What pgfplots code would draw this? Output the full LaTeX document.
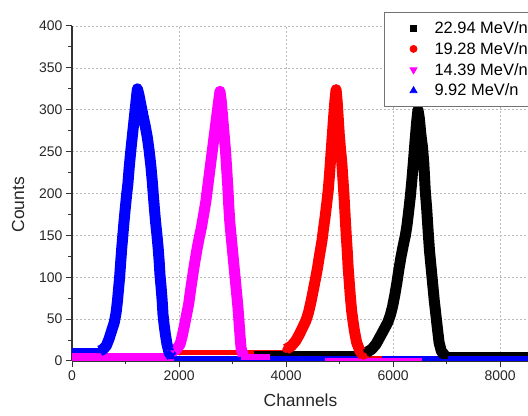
\documentclass[border=0pt]{standalone}
\usepackage{fontspec}
\setmainfont{Liberation Sans}
\usepackage{pgfplots}
\usepackage{pgfplotstable}
\pgfplotsset{compat=1.18}
\definecolor{mag}{RGB}{255,0,255}
\definecolor{blu}{RGB}{0,0,255}
\definecolor{rd}{RGB}{255,0,0}

% peak data: channel, counts
\pgfplotstableread{
x y
5500 10
5600 14
5680 20
5740 27
5800 34
5850 40
5900 46
5950 55
5990 65
6030 78
6070 93
6110 110
6150 125
6190 138
6230 150
6260 162
6290 178
6320 195
6350 215
6380 238
6410 262
6440 285
6465 300
6490 290
6520 270
6550 255
6575 235
6600 205
6630 180
6655 155
6680 132
6710 112
6740 92
6770 72
6800 55
6830 38
6860 22
6900 12
6960 7
}\blackdata

\pgfplotstableread{
x y
4000 14
4100 18
4180 24
4250 32
4310 40
4370 48
4420 58
4470 72
4510 85
4550 98
4590 112
4630 128
4670 143
4700 158
4730 172
4760 188
4790 205
4815 225
4840 248
4865 270
4890 292
4915 312
4935 324
4955 310
4975 290
4995 270
5015 255
5040 238
5065 215
5085 195
5105 172
5125 150
5145 130
5160 112
5180 95
5200 78
5225 60
5250 48
5280 35
5320 22
5380 12
5450 6
}\reddata

\pgfplotstableread{
x y
1850 10
1950 14
2020 20
2060 30
2100 42
2140 55
2180 68
2210 82
2240 95
2270 108
2300 120
2340 135
2380 148
2420 160
2460 175
2500 190
2530 205
2560 220
2590 235
2620 250
2650 265
2680 280
2710 295
2740 310
2765 322
2790 310
2810 295
2830 280
2850 265
2870 250
2890 230
2910 210
2930 185
2950 165
2980 145
3010 125
3040 105
3070 85
3100 65
3120 48
3140 30
3160 15
3200 6
}\magentadata

\pgfplotstableread{
x y
520 12
580 14
640 18
690 26
740 36
790 46
825 58
850 72
870 86
890 100
910 118
930 135
950 150
970 165
995 182
1020 198
1045 212
1065 228
1085 242
1105 255
1130 270
1155 285
1180 300
1200 312
1222 325
1250 318
1290 305
1330 292
1370 280
1405 268
1440 252
1472 234
1498 216
1520 198
1540 182
1562 166
1588 150
1610 135
1630 118
1645 102
1665 88
1685 72
1700 56
1720 44
1745 32
1775 20
1815 10
1870 5
}\bluedata

\begin{document}
\begin{tikzpicture}
\useasboundingbox (0,0) rectangle (528bp,416bp);
\begin{axis}[
  at={(72bp,55bp)}, anchor=south west,
  scale only axis,
  width=457bp, height=335bp,
  xmin=0, xmax=8540,
  ymin=0, ymax=400,
  xtick={0,2000,4000,6000,8000},
  ytick={0,50,...,400},
  minor x tick num=1,
  minor y tick num=1,
  scaled x ticks=false,
  /pgf/number format/1000 sep={},
  /pgf/number format/assume math mode=true,
  axis x line*=bottom,
  axis y line*=left,
  axis line style={line width=1.2bp, black!80},
  tick align=outside,
  major tick length=6bp,
  minor tick length=3.5bp,
  tick style={line width=1bp, black!80},
  grid=major,
  grid style={line width=0.6bp, gray!55, dash pattern=on 2bp off 2bp},
  ticklabel style={font=\fontsize{14}{16}\selectfont, text=black!85},
  xlabel={Channels},
  ylabel={Counts},
  label style={font=\fontsize{17.5}{20}\selectfont, text=black!85},
  xlabel style={at={(rel axis cs:0.5,0)}, anchor=center, yshift=-39bp},
  ylabel style={at={(rel axis cs:0,0.466)}, anchor=center, yshift=54bp},
  legend cell align=left,
  legend image code/.code={%
    \path[draw=none, fill=none] (0bp,-4bp) rectangle (46bp,4bp);
    \draw[#1] plot coordinates {(27bp,0bp)};},
  legend style={at={(rel axis cs:0.683,1.042)}, anchor=north west,
    draw=black!55, line width=0.8bp, fill=white,
    font=\fontsize{16.5}{19}\selectfont, row sep=3.5bp,
    inner xsep=2bp, inner ysep=7bp},
]
% flat background parts
\addplot[forget plot, blu, line width=7bp] coordinates {(0,11) (560,11)};
\addplot[forget plot, blu, line width=5bp] coordinates {(1850,3) (8540,3)};
\addplot[forget plot, rd, line width=5bp] coordinates {(1950,10) (4000,10)};
\addplot[forget plot, rd, line width=4bp] coordinates {(5400,4) (5800,4)};
\addplot[forget plot, black, line width=5bp] coordinates {(3400,9) (5550,9)};
\addplot[forget plot, black, line width=4bp] coordinates {(6900,8) (8540,8)};
\addplot[forget plot, mag, line width=8bp] coordinates {(0,5) (1900,5)};
\addplot[forget plot, mag, line width=6bp] coordinates {(3150,5) (3700,5)};
\addplot[forget plot, mag, line width=3bp] coordinates {(4730,2) (6540,2)};
% peak bands
\addplot[forget plot, black, line width=11bp, line join=round] table {\blackdata};
\addplot[forget plot, rd, line width=11bp, line join=round] table {\reddata};
\addplot[forget plot, mag, line width=11bp, line join=round] table {\magentadata};
\addplot[forget plot, blu, line width=11bp, line join=round] table {\bluedata};
% points
\addplot[only marks, black, mark=square*, mark size=3bp] table {\blackdata};
\addplot[only marks, rd, mark=*, mark size=3.5bp] table {\reddata};
\addplot[only marks, mag, mark=triangle*, mark size=4bp, mark options={rotate=180}] table {\magentadata};
\addplot[only marks, blu, mark=triangle*, mark size=4bp] table {\bluedata};
\legend{22.94 MeV/n, 19.28 MeV/n, 14.39 MeV/n, 9.92 MeV/n}
\end{axis}
\end{tikzpicture}
\end{document}
